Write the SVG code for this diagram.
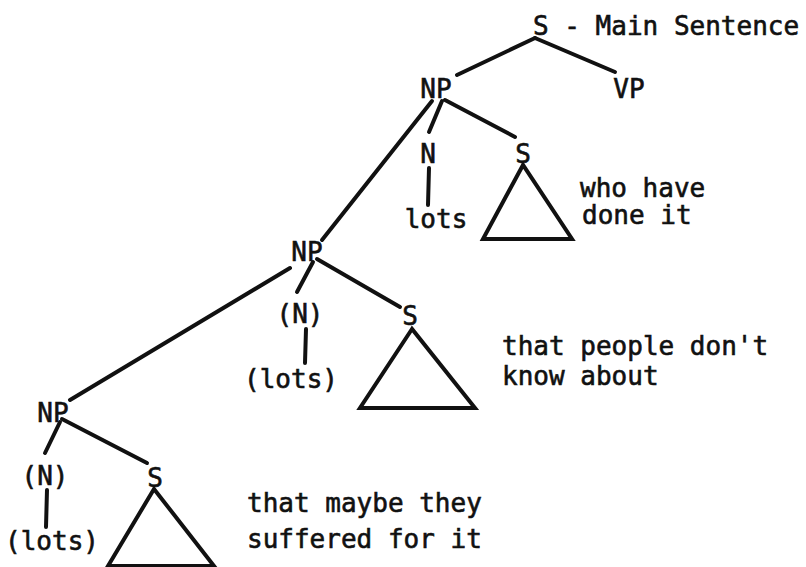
<svg xmlns="http://www.w3.org/2000/svg" width="806" height="567" viewBox="0 0 806 567">
<style>
text{font-family:"DejaVu Sans Mono","Liberation Mono",monospace;font-size:26px;fill:#111;stroke:#111;stroke-width:0.6}
.c{text-anchor:middle}
line,polygon{stroke:#111;stroke-width:4;fill:none;stroke-linecap:round;stroke-linejoin:miter}
</style>
<rect width="806" height="567" fill="#fff"/>
<g id="connectors">
<line x1="535" y1="38" x2="457" y2="75"/>
<line x1="535" y1="38" x2="615" y2="72"/>
<line x1="432" y1="101" x2="322" y2="240"/>
<line x1="442" y1="101" x2="429" y2="132"/>
<line x1="429" y1="168" x2="428" y2="205"/>
<line x1="445" y1="100" x2="515" y2="137"/>
<line x1="313" y1="262" x2="297" y2="292"/>
<line x1="306" y1="329" x2="305" y2="363"/>
<line x1="317" y1="259" x2="400" y2="307"/>
<line x1="290" y1="268" x2="70" y2="400"/>
<line x1="60" y1="422" x2="45" y2="453"/>
<line x1="47" y1="490" x2="46" y2="527"/>
<line x1="62" y1="419" x2="147" y2="463"/>
</g>
<g id="s-main"><text x="533" y="35">S - Main Sentence</text></g>
<g id="np1"><text class="c" x="436" y="98">NP</text></g>
<g id="vp"><text class="c" x="629" y="98">VP</text></g>
<g id="n1"><text class="c" x="428" y="163">N</text></g>
<g id="lots1"><text class="c" x="436" y="228">lots</text></g>
<g id="s1"><text class="c" x="523" y="163">S</text>
<polygon points="523,165 483,239 572,239"/>
<text x="580" y="197">who have</text><text x="582" y="224">done it</text></g>
<g id="np2"><text class="c" x="307" y="261">NP</text></g>
<g id="n2"><text class="c" x="300" y="323">(N)</text></g>
<g id="lots2"><text class="c" x="291" y="388">(lots)</text></g>
<g id="s2"><text class="c" x="410" y="325">S</text>
<polygon points="412,329 360,408 475,408"/>
<text x="502" y="355">that people don't</text><text x="502" y="385">know about</text></g>
<g id="np3"><text class="c" x="53" y="422">NP</text></g>
<g id="n3"><text class="c" x="45" y="485">(N)</text></g>
<g id="lots3"><text class="c" x="52" y="550">(lots)</text></g>
<g id="s3"><text class="c" x="155" y="487">S</text>
<polygon points="154,489 108,566 214,566"/>
<text x="247" y="512">that maybe they</text><text x="247" y="548">suffered for it</text></g>
</svg>
